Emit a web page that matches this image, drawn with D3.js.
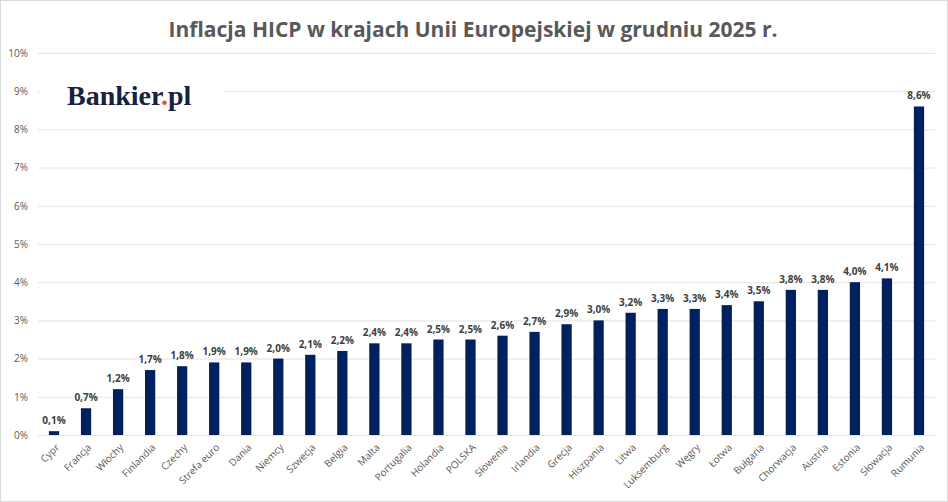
<!DOCTYPE html>
<html>
<head>
<meta charset="utf-8">
<script src="https://cdn.jsdelivr.net/npm/d3@7"></script>
<style>
  body { margin: 0; background: #fff; }
  svg { display: block; font-family: "Open Sans", "Liberation Sans", sans-serif; }
</style>
</head>
<body>
<svg id="chart" width="948" height="502"></svg>
<script>

// Data

var countries = ['Cypr', 'Francja', 'Włochy', 'Finlandia', 'Czechy', 'Strefa euro', 'Dania', 'Niemcy',
  'Szwecja', 'Belgia', 'Malta', 'Portugalia', 'Holandia', 'POLSKA', 'Słowenia', 'Irlandia', 'Grecja',
  'Hiszpania', 'Litwa', 'Luksemburg', 'Węgry', 'Łotwa', 'Bułgaria', 'Chorwacja', 'Austria', 'Estonia',
  'Słowacja', 'Rumunia'];
var inflation = [0.1, 0.7, 1.2, 1.7, 1.8, 1.9, 1.9, 2.0, 2.1, 2.2, 2.4, 2.4, 2.5, 2.5, 2.6, 2.7, 2.9,
  3.0, 3.2, 3.3, 3.3, 3.4, 3.5, 3.8, 3.8, 4.0, 4.1, 8.6];
var yTicks = [0, 1, 2, 3, 4, 5, 6, 7, 8, 9, 10];

var title = 'Inflacja HICP w krajach Unii Europejskiej w grudniu 2025 r.';


// Layout

var svg = d3.select('#chart');
var plotLeft = 38, plotRight = 935, plotTop = 53, plotBottom = 435;

var x = d3.scaleBand().domain(countries).range([plotLeft, plotRight]).paddingInner(0.68).paddingOuter(0.34);
var y = d3.scaleLinear().domain([0, 10]).range([plotBottom, plotTop]);

function fmt(v) { return v.toFixed(1).replace('.', ',') + '%'; }


// Frame

svg.append('rect')
  .attr('x', 0.5).attr('y', 0.5)
  .attr('width', 947).attr('height', 501)
  .attr('fill', '#fff')
  .attr('stroke', '#d9d9d9');


// Title

svg.append('text')
  .attr('x', 473).attr('y', 37)
  .attr('text-anchor', 'middle')
  .style('font-size', '21px')
  .style('font-weight', 'bold')
  .style('fill', '#595959')
  .text(title);


// Grid and y axis

svg.append('g')
  .selectAll('line')
  .data(yTicks)
  .join('line')
  .attr('x1', plotLeft).attr('x2', plotRight)
  .attr('y1', d => y(d) + 0.5).attr('y2', d => y(d) + 0.5)
  .attr('stroke', '#e4e4e4')
  .attr('stroke-width', 1);

var yAxis = svg.append('g')
  .attr('transform', 'translate(' + plotLeft + ',0)')
  .call(d3.axisLeft(y).tickValues(yTicks).tickFormat(d => d + '%').tickSize(0).tickPadding(10));
yAxis.select('.domain').remove();
yAxis.selectAll('text')
  .style('font-family', '"Open Sans", sans-serif')
  .style('font-size', '10px')
  .style('fill', '#595959');


// Logo (white box hides the 9% gridline)

svg.append('rect')
  .attr('x', 40).attr('y', 76)
  .attr('width', 183).attr('height', 40)
  .attr('fill', '#fff');

var logo = svg.append('text')
  .attr('x', 67).attr('y', 105)
  .style('font-family', '"Liberation Serif", "DejaVu Serif", serif')
  .style('font-size', '28px')
  .style('font-weight', 'bold')
  .style('fill', '#16223f');
logo.append('tspan').text('Bankier');
logo.append('tspan').style('fill', '#e8502a').text('.');
logo.append('tspan').text('pl');


// Bars

svg.append('g')
  .selectAll('rect')
  .data(countries)
  .join('rect')
  .attr('x', d => x(d))
  .attr('y', (d, i) => y(inflation[i]))
  .attr('width', x.bandwidth())
  .attr('height', (d, i) => plotBottom - y(inflation[i]))
  .attr('fill', '#002060');


// Value labels

svg.append('g')
  .selectAll('text')
  .data(countries)
  .join('text')
  .attr('x', d => x(d) + x.bandwidth() / 2)
  .attr('y', (d, i) => y(inflation[i]) - 7)
  .attr('text-anchor', 'middle')
  .style('font-size', '10px')
  .style('font-weight', 'bold')
  .style('fill', '#404040')
  .text((d, i) => fmt(inflation[i]));


// Category labels

var xAxis = svg.append('g')
  .attr('transform', 'translate(0,' + plotBottom + ')')
  .call(d3.axisBottom(x).tickSize(0).tickPadding(0));
xAxis.select('.domain').remove();
xAxis.selectAll('text')
  .attr('text-anchor', 'end')
  .attr('y', 0)
  .attr('dy', 0)
  .attr('transform', 'translate(6,13) rotate(-45)')
  .style('font-family', '"Open Sans", sans-serif')
  .style('font-size', '10px')
  .style('fill', '#595959');

</script>
</body>
</html>
